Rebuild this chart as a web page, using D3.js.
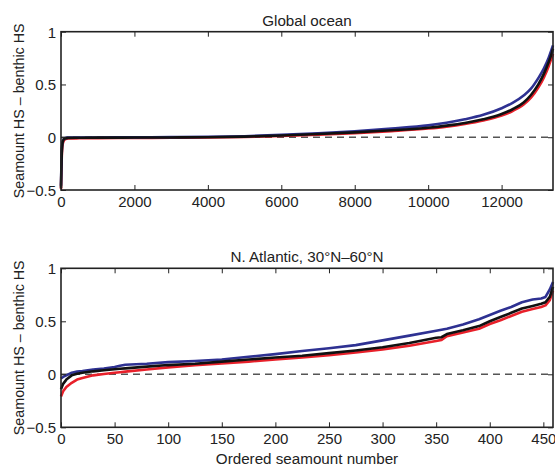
<!DOCTYPE html>
<html>
<head>
<meta charset="utf-8">
<script src="https://cdn.jsdelivr.net/npm/d3@7"></script>
<style>
  html, body { margin: 0; padding: 0; background: #fff; }
  svg { display: block; }
  text { font-family: "Liberation Sans", Arial, Helvetica, sans-serif; fill: #222; }
</style>
</head>
<body>
<svg id="chart" width="555" height="465"></svg>
<script>
// ---------- DATA ----------
// Panel 1: Global ocean
const globalX     = [0, 10, 25, 50, 100, 200, 500, 1000, 2000, 3000, 4000, 5000, 6000, 7000, 8000, 9000, 10000, 10500, 11000, 11500, 12000, 12300, 12600, 12800, 13000, 13150, 13280, 13360, 13400];
const globalBlack = [-0.48, -0.30, -0.12, -0.04, -0.012, -0.006, -0.005, -0.004, -0.003, -0.002, 0.000, 0.006, 0.016, 0.030, 0.046, 0.066, 0.090, 0.110, 0.135, 0.170, 0.220, 0.265, 0.330, 0.400, 0.500, 0.600, 0.710, 0.790, 0.840];
const globalBlue  = [-0.46, -0.28, -0.10, -0.035, -0.010, -0.004, -0.003, -0.002, -0.001, 0.001, 0.004, 0.010, 0.022, 0.037, 0.057, 0.082, 0.112, 0.137, 0.170, 0.212, 0.275, 0.325, 0.395, 0.460, 0.560, 0.650, 0.750, 0.830, 0.870];
const globalRed   = [-0.49, -0.33, -0.15, -0.06, -0.022, -0.012, -0.010, -0.008, -0.007, -0.005, -0.003, 0.002, 0.011, 0.023, 0.039, 0.058, 0.082, 0.100, 0.125, 0.158, 0.205, 0.248, 0.310, 0.375, 0.470, 0.565, 0.670, 0.750, 0.790];
const globalXTicks = [0, 2000, 4000, 6000, 8000, 10000, 12000];

// Panel 2: N. Atlantic, 30N-60N
const natlX     = [0, 2, 5, 10, 15, 20, 30, 40, 50, 55, 60, 80, 100, 125, 150, 175, 200, 225, 250, 275, 300, 325, 350, 355, 360, 375, 390, 400, 410, 420, 430, 440, 448, 452, 456, 459];
const natlBlue  = [-0.04, -0.025, -0.01, 0.015, 0.025, 0.030, 0.045, 0.055, 0.068, 0.080, 0.090, 0.100, 0.115, 0.125, 0.140, 0.165, 0.190, 0.220, 0.245, 0.275, 0.320, 0.365, 0.410, 0.420, 0.430, 0.470, 0.520, 0.560, 0.600, 0.635, 0.680, 0.705, 0.715, 0.730, 0.800, 0.870];
const natlBlack = [-0.14, -0.09, -0.05, -0.01, 0.005, 0.015, 0.028, 0.038, 0.047, 0.052, 0.056, 0.072, 0.087, 0.100, 0.120, 0.140, 0.158, 0.175, 0.200, 0.225, 0.255, 0.295, 0.345, 0.350, 0.380, 0.415, 0.455, 0.500, 0.540, 0.580, 0.620, 0.645, 0.665, 0.680, 0.730, 0.825];
const natlRed   = [-0.21, -0.16, -0.12, -0.08, -0.05, -0.035, -0.010, 0.003, 0.015, 0.020, 0.025, 0.045, 0.065, 0.085, 0.102, 0.120, 0.140, 0.158, 0.180, 0.205, 0.235, 0.270, 0.315, 0.325, 0.360, 0.395, 0.430, 0.475, 0.510, 0.550, 0.590, 0.615, 0.635, 0.650, 0.700, 0.790];
const natlXTicks = [0, 50, 100, 150, 200, 250, 300, 350, 400, 450];

const yTicks = [-0.5, 0, 0.5, 1];
const yTickLabels = ["\u22120.5", "0", "0.5", "1"];

const titles = ["Global ocean", "N. Atlantic, 30\u00B0N\u201360\u00B0N"];
const yLabel = "Seamount HS \u2013 benthic HS";
const xLabel = "Ordered seamount number";

// ---------- LAYOUT ----------
const svg = d3.select("#chart");
const left = 61, right = 553;
const panels = [
  { top: 31.7, bottom: 190, xMax: 13400, xs: globalX, series: [globalRed, globalBlue, globalBlack], ticks: globalXTicks, title: titles[0], curve: d3.curveMonotoneX },
  { top: 268.3, bottom: 427.3, xMax: 459, xs: natlX, series: [natlRed, natlBlue, natlBlack], ticks: natlXTicks, title: titles[1], curve: d3.curveLinear }
];
const colors = ["#e8202a", "#2e3192", "#111111"];
const tickFont = 15;
const labelFont = 15.2;
const yLabelFont = 14.3;

panels.forEach((p, pi) => {
  const x = d3.scaleLinear().domain([0, p.xMax]).range([left, right]);
  const y = d3.scaleLinear().domain([-0.5, 1]).range([p.bottom, p.top]);
  const g = svg.append("g");

  // zero dashed line
  g.append("line")
    .attr("x1", x(0)).attr("x2", x(p.xMax))
    .attr("y1", y(0)).attr("y2", y(0))
    .attr("stroke", "#555").attr("stroke-width", 1.4)
    .attr("stroke-dasharray", "7,5");

  // curves
  const line = d3.line().x((d, i) => x(p.xs[i])).y(d => y(d)).curve(p.curve);
  p.series.forEach((s, si) => {
    g.append("path").datum(s)
      .attr("d", line)
      .attr("fill", "none")
      .attr("stroke", colors[si])
      .attr("stroke-width", 2.6)
      .attr("stroke-linejoin", "round")
      .attr("stroke-linecap", "butt");
  });

  // axes (ticks inward on all four sides)
  const axB = g.append("g").attr("transform", `translate(0,${p.bottom})`)
    .call(d3.axisBottom(x).tickValues(p.ticks).tickSizeInner(-5).tickSizeOuter(0).tickPadding(6).tickFormat(d3.format("d")));
  const axT = g.append("g").attr("transform", `translate(0,${p.top})`)
    .call(d3.axisTop(x).tickValues(p.ticks).tickSizeInner(-5).tickSizeOuter(0).tickFormat(""));
  const axL = g.append("g").attr("transform", `translate(${left},0)`)
    .call(d3.axisLeft(y).tickValues(yTicks).tickSizeInner(-5).tickSizeOuter(0).tickPadding(5)
      .tickFormat((d, i) => yTickLabels[i]));
  const axR = g.append("g").attr("transform", `translate(${right},0)`)
    .call(d3.axisRight(y).tickValues(yTicks).tickSizeInner(-5).tickSizeOuter(0).tickFormat(""));

  [axB, axT, axL, axR].forEach(a => {
    a.select(".domain").remove();
    a.selectAll(".tick line").attr("stroke", "#222").attr("stroke-width", 1);
    a.selectAll("text").attr("font-size", tickFont).attr("fill", "#222")
      .attr("font-family", "'Liberation Sans', Arial, sans-serif");
  });
  axL.selectAll("text").attr("dy", "0.36em");

  // frame
  g.append("rect")
    .attr("x", left).attr("y", p.top)
    .attr("width", right - left).attr("height", p.bottom - p.top)
    .attr("fill", "none").attr("stroke", "#222").attr("stroke-width", 1.6);

  // title
  g.append("text")
    .attr("x", (left + right) / 2).attr("y", p.top - 6)
    .attr("text-anchor", "middle").attr("font-size", labelFont)
    .text(p.title);

  // y label
  g.append("text")
    .attr("transform", `translate(24,${(p.top + p.bottom) / 2}) rotate(-90)`)
    .attr("text-anchor", "middle").attr("font-size", yLabelFont)
    .text(yLabel);
});

// x label (bottom panel)
svg.append("text")
  .attr("x", (left + right) / 2).attr("y", 463.5)
  .attr("text-anchor", "middle").attr("font-size", labelFont)
  .text(xLabel);
</script>
</body>
</html>
